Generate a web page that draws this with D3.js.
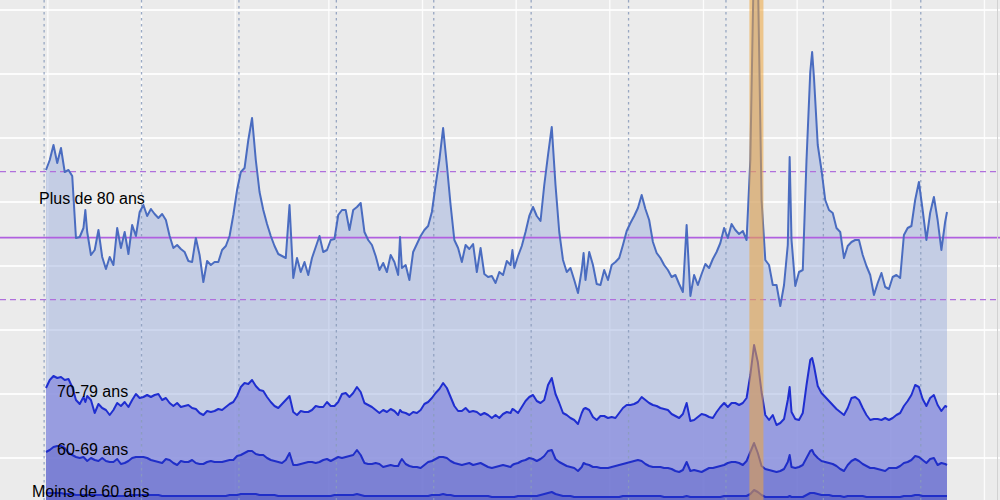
<!DOCTYPE html>
<html>
<head>
<meta charset="utf-8">
<script src="https://cdn.jsdelivr.net/npm/d3@7"></script>
<style>
  html, body { margin: 0; padding: 0; background: #ebebeb; }
  svg { display: block; }
  text { font-family: "Liberation Sans", Arial, sans-serif; }
</style>
</head>
<body>
<svg id="chart" width="1000" height="500"></svg>
<script>
// ---- data (weekly deaths by age group, stacked) ----
const weeks = [
  0,2,4,6,8,10,12,14,16,18,
  20,21,22,24,26,28,30,32,34,36,
  38,40,42,44,46,48,50,52,54,56,
  58,60,62,64,66,68,70,72,74,76,
  78,80,82,84,86,88,90,92,94,96,
  98,100,102,104,106,108,110,112,114,116,
  118,120,122,124,126,128,130,132,134,136,
  138,140,142,144,146,148,150,152,154,156,
  158,160,162,164,166,168,170,172,174,176,
  178,180,182,184,186,188,189,190,192,194,
  196,198,200,202,204,206,208,210,212,214,
  216,218,220,222,224,226,228,230,232,234,
  236,238,240,242,244,246,248,249,250,252,
  254,256,258,260,262,264,266,268,270,272,
  274,276,278,280,282,284,286,287,288,290,
  292,294,296,298,300,302,304,306,308,310,
  312,314,316,318,320,322,324,326,328,330,
  332,334,336,338,340,342,344,346,348,350,
  352,354,356,358,360,362,364,366,368,370,
  372,374,376,378,380,382,384,386,388,390,
  392,394,396,397,398,400,402,404,406,408,
  409,410,412,414,416,418,420,422,424,426,
  428,430,432,434,436,438,440,442,444,446,
  448,450,452,454,456,458,460,462,464,466,
  468,470,472,474,476,478,480,481
];
const moins60 = [
  725,725,725,725,725,700,700,700,675,675,
  675,675,675,675,675,675,675,650,650,650,
  650,650,650,650,675,675,675,675,675,675,
  675,675,650,650,650,650,650,650,650,650,
  650,650,650,650,650,650,650,650,650,650,
  675,675,675,700,700,700,700,700,675,675,
  675,675,675,650,650,650,650,650,650,650,
  650,650,650,650,650,650,650,650,675,675,
  675,675,675,675,700,675,650,650,650,650,
  650,650,650,650,650,650,650,650,650,650,
  650,650,650,650,650,675,675,675,700,675,
  675,650,650,650,650,650,650,650,650,650,
  650,625,625,625,625,625,625,625,625,650,
  650,650,650,650,650,675,700,725,750,700,
  675,650,650,650,625,625,625,625,625,625,
  625,625,625,625,625,625,625,625,650,650,
  650,650,650,650,650,650,650,650,650,625,
  625,625,625,625,625,650,625,625,625,625,
  625,625,625,625,625,650,650,650,650,650,
  650,650,700,800,750,675,625,625,625,625,
  625,625,625,650,625,625,625,625,675,725,
  725,725,700,675,675,675,650,650,650,625,
  650,650,650,650,650,625,625,625,625,625,
  625,625,625,625,625,650,650,650,675,675,
  650,650,650,650,650,650,650,650
];
const ans60_69 = [
  1025,1075,1150,1175,1175,1150,1025,975,950,925,
  950,900,850,925,875,850,925,875,850,850,
  925,800,825,875,925,950,950,950,925,875,
  850,825,825,925,900,825,775,875,850,850,
  900,825,800,800,850,875,850,850,850,875,
  875,875,975,975,1025,1075,1075,1000,1000,1000,
  925,875,850,850,825,900,1075,775,775,800,
  825,850,850,825,850,900,925,875,900,950,
  925,950,975,1000,1100,1000,825,800,800,825,
  800,725,750,775,750,750,850,925,800,750,
  725,725,700,775,850,850,900,950,925,925,
  850,825,800,775,800,825,775,800,825,775,
  725,725,750,775,800,775,750,800,825,825,
  875,900,950,925,875,900,950,1050,1050,875,
  825,800,750,725,725,650,750,850,825,800,
  750,750,725,725,725,750,775,800,800,825,
  850,875,900,875,800,750,725,725,725,725,
  725,700,650,625,675,850,650,675,650,625,
  675,725,725,750,775,775,825,850,850,825,
  775,875,1050,1175,975,725,700,675,650,625,
  650,700,875,1025,750,725,750,800,925,1050,
  1075,975,900,850,825,800,800,750,675,650,
  775,875,925,875,800,775,725,725,700,675,
  650,725,725,725,775,825,850,900,975,950,
  900,825,925,950,775,825,800,775
];
const ans70_79 = [
  1600,1750,1775,1700,1725,1700,1850,1700,1425,1350,
  1500,1425,1625,1450,1175,1425,1250,1275,1175,1300,
  1400,1450,1525,1350,1450,1575,1475,1500,1575,1575,
  1650,1700,1575,1525,1425,1425,1550,1350,1400,1425,
  1300,1350,1275,1225,1275,1225,1275,1325,1300,1350,
  1400,1450,1500,1700,1750,1675,1775,1700,1625,1600,
  1525,1450,1375,1350,1475,1500,1425,1325,1250,1325,
  1275,1250,1300,1425,1375,1325,1425,1375,1325,1375,
  1600,1600,1475,1550,1575,1575,1500,1475,1425,1325,
  1275,1425,1350,1400,1375,1275,1300,1175,1275,1275,
  1375,1350,1450,1525,1500,1575,1650,1700,1850,1750,
  1600,1425,1325,1350,1400,1275,1350,1300,1200,1300,
  1300,1250,1300,1200,1275,1350,1350,1400,1350,1250,
  1350,1475,1525,1600,1500,1400,1400,1650,1800,1625,
  1475,1275,1275,1225,1200,1175,1350,1350,1400,1375,
  1250,1175,1300,1300,1250,1250,1200,1300,1400,1450,
  1425,1425,1450,1600,1600,1575,1550,1525,1475,1475,
  1450,1375,1375,1350,1400,1475,1250,1250,1350,1450,
  1375,1275,1250,1375,1475,1550,1400,1475,1475,1450,
  1550,1575,1925,2450,2275,1850,1350,1250,1400,1175,
  1200,1250,1550,1700,1375,1225,1175,1300,1825,2275,
  2300,2200,1800,1700,1625,1550,1475,1425,1425,1400,
  1425,1575,1550,1525,1400,1275,1200,1225,1250,1250,
  1325,1200,1250,1325,1325,1425,1525,1625,1775,1750,
  1525,1425,1525,1575,1500,1300,1450,1450
];
const plus80 = [
  5450,5500,5775,5375,5725,5200,5225,5275,4050,4175,
  4225,4800,4100,3625,4075,4350,3775,3525,3950,3625,
  4375,3950,4250,3825,4375,3950,4650,4800,4475,4700,
  4525,4400,4650,4450,4175,3950,3950,3950,3850,3600,
  3650,4275,3950,3325,3750,3675,3725,3675,4000,4025,
  4200,4675,5150,5375,5375,6100,6550,5650,4950,4525,
  4325,4150,4000,3850,3700,3550,4775,3350,3925,3475,
  3750,3425,3800,3975,4275,3875,3800,4150,4175,4675,
  4600,4575,4175,4575,4500,4725,4275,4125,4050,3850,
  3575,3675,3500,3850,3725,3500,4325,3600,3700,3375,
  4000,4225,4350,4350,4400,4650,5200,5725,6375,5575,
  4800,4150,4075,3725,4075,4075,4175,3500,4175,3475,
  3450,3550,3300,3650,3475,3775,3700,3975,3550,3925,
  4025,4225,4525,4700,4625,4550,5375,5750,6275,5225,
  4275,3825,3575,3750,3500,3275,3575,3900,3200,3950,
  3800,3400,3275,3650,3450,3800,3900,3875,4075,4350,
  4550,4700,4850,5050,4775,4575,4075,3825,3750,3600,
  3500,3425,3525,3350,3050,4450,3125,3625,3300,3500,
  3775,3725,3975,4000,4100,4375,4225,4475,4325,4275,
  4300,3950,5375,9875,9800,4800,3875,3875,3250,3500,
  2925,3350,3875,5750,4300,3325,3700,3575,5625,7200,
  7650,7200,6025,5575,4925,4775,4800,4525,4500,3925,
  4050,3900,3925,4000,3825,3725,3625,3100,3400,3675,
  3275,3275,3525,3500,3375,4275,4325,4225,4625,5125,
  4725,4150,4625,4950,4625,4025,4600,4875
];
const seriesKeys   = ["moins60", "ans60_69", "ans70_79", "plus80"];
const seriesLabels = ["Moins de 60 ans", "60-69 ans", "70-79 ans", "Plus de 80 ans"];
const yearStartWeeks = [-1, 51, 103, 155, 207, 259, 311, 363, 415, 467];
const gridWeeks = [1, 51, 101, 151, 201, 251, 301, 351, 401, 451, 501];
const refMean = 7110, refHigh = 8760, refLow = 5560;
const highlightWeeks = [375.5, 383];

// ---- build table ----
const n = Math.min(weeks.length, moins60.length, ans60_69.length, ans70_79.length, plus80.length);
const rows = [];
for (let i = 0; i < n; i++) {
  rows.push({week: weeks[i], moins60: moins60[i], ans60_69: ans60_69[i], ans70_79: ans70_79[i], plus80: plus80[i]});
}

const svg = d3.select("#chart");
const W = 1000, H = 500;

const x = d3.scaleLinear().domain([0, 481]).range([46, 947]);
const y = d3.scaleLinear().domain([0, 12800]).range([522, 10]);

// background
svg.append("rect").attr("width", W).attr("height", H).attr("fill", "#ebebeb");

// white grid
const grid = svg.append("g");
grid.selectAll("line.h").data(d3.range(0, 12801, 1600)).join("line")
  .attr("x1", 0).attr("x2", W)
  .attr("y1", d => y(d)).attr("y2", d => y(d))
  .attr("stroke", "#ffffff").attr("stroke-width", 1.8).attr("opacity", 0.85);
grid.selectAll("line.v").data(gridWeeks).join("line")
  .attr("x1", d => x(d)).attr("x2", d => x(d))
  .attr("y1", 0).attr("y2", H)
  .attr("stroke", "#ffffff").attr("stroke-width", 1.4).attr("opacity", 0.85);

// stacked areas
const stack = d3.stack().keys(seriesKeys);
const layers = stack(rows);
const fills = {
  moins60: "rgba(88,94,198,0.92)",
  ans60_69: "rgba(112,118,210,0.9)",
  ans70_79: "rgba(140,146,222,0.88)",
  plus80:  "rgba(150,170,220,0.46)"
};
const area = d3.area()
  .x(d => x(d.data.week))
  .y0(d => y(d[0]))
  .y1(d => y(d[1]));
svg.append("g").selectAll("path").data(layers).join("path")
  .attr("d", area)
  .attr("fill", d => fills[d.key]);

// year separators (dashed)
svg.append("g").selectAll("line").data(yearStartWeeks).join("line")
  .attr("x1", d => x(d)).attr("x2", d => x(d))
  .attr("y1", 0).attr("y2", H)
  .attr("stroke", "#8a9cbc").attr("stroke-width", 1.3)
  .attr("stroke-dasharray", "2.5,3.5").attr("opacity", 0.85);

// reference lines
const refs = [
  {v: refMean, dash: null, w: 1.6, c: "#b060e0"},
  {v: refHigh, dash: "6,4", w: 1.4, c: "#b070dc"},
  {v: refLow,  dash: "6,4", w: 1.4, c: "#b070dc"}
];
svg.append("g").selectAll("line").data(refs).join("line")
  .attr("x1", 0).attr("x2", W)
  .attr("y1", d => y(d.v)).attr("y2", d => y(d.v))
  .attr("stroke", d => d.c).attr("stroke-width", d => d.w)
  .attr("stroke-dasharray", d => d.dash);

// layer top lines
const line = d3.line()
  .x(d => x(d.data.week))
  .y(d => y(d[1]));
const lineColors = {moins60: "#1f2ec8", ans60_69: "#1f2ec8", ans70_79: "#1f2ed0", plus80: "#4a6cc0"};
svg.append("g").selectAll("path").data(layers).join("path")
  .attr("d", line)
  .attr("fill", "none")
  .attr("stroke", d => lineColors[d.key])
  .attr("stroke-width", 2)
  .attr("stroke-linejoin", "round");

// highlighted period
svg.append("rect")
  .attr("x", x(highlightWeeks[0]))
  .attr("width", x(highlightWeeks[1]) - x(highlightWeeks[0]))
  .attr("y", 0).attr("height", H)
  .attr("fill", "rgb(238,165,60)").attr("opacity", 0.55);

// right border
svg.append("line").attr("x1", 997.5).attr("x2", 997.5).attr("y1", 0).attr("y2", H)
  .attr("stroke", "#d2d2d2").attr("stroke-width", 1);

// labels
const labelPos = {
  plus80:  [39, 204],
  ans70_79:[57, 397],
  ans60_69:[57, 455],
  moins60: [32, 497]
};
svg.append("g").selectAll("text").data(seriesKeys).join("text")
  .attr("x", d => labelPos[d][0])
  .attr("y", d => labelPos[d][1])
  .attr("font-size", 16)
  .attr("fill", "#000")
  .text((d, i) => seriesLabels[i]);
</script>
</body>
</html>
